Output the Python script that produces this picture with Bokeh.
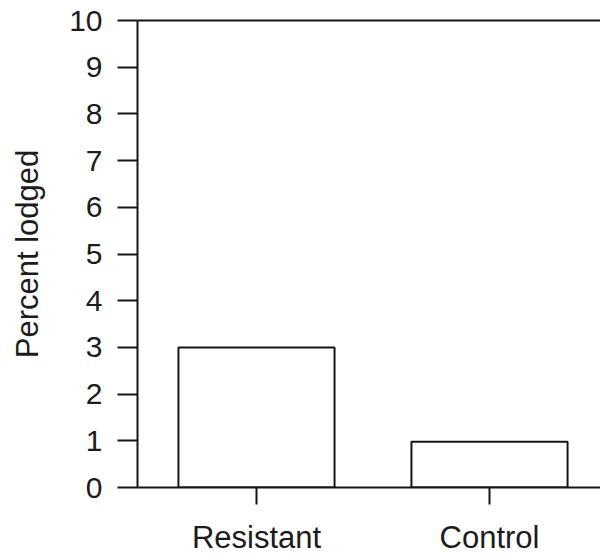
from bokeh.plotting import figure
from bokeh.models import Range1d, FixedTicker, LinearAxis
from bokeh.embed import file_html
from bokeh.resources import INLINE

categories = ["Resistant", "Control"]
percent_lodged = [3.0, 0.98]
y_ticks = list(range(0, 11))

x_pos = [i + 1 for i in range(len(categories))]

LINE = "#151515"
TEXT = "#1c1c1c"
FONT = "Liberation Sans"

p = figure(width=600, height=557, output_backend="svg", toolbar_location=None,
           x_range=Range1d(0.4893, 2.4764), y_range=Range1d(0, 10),
           min_border_left=137, min_border_right=0, min_border_top=20,
           min_border_bottom=69)
p.background_fill_color = "white"
p.border_fill_color = "white"
p.outline_line_color = None
p.xgrid.grid_line_color = None
p.ygrid.grid_line_color = None

p.vbar(x=x_pos, top=percent_lodged, bottom=0, width=0.67,
       fill_color="white", line_color=LINE, line_width=2)

# x axis
xa = p.xaxis[0]
xa.ticker = FixedTicker(ticks=x_pos)
xa.major_label_overrides = {x: c for x, c in zip(x_pos, categories)}
xa.axis_line_color = LINE
xa.axis_line_width = 2
xa.major_tick_in = 0
xa.major_tick_out = 17
xa.major_tick_line_width = 2
xa.major_tick_line_color = LINE
xa.minor_tick_line_color = None
xa.major_label_standoff = 15
xa.major_label_text_font = FONT
xa.major_label_text_font_size = "31px"
xa.major_label_text_color = TEXT

# y axis
ya = p.yaxis[0]
ya.ticker = FixedTicker(ticks=y_ticks)
ya.axis_line_color = LINE
ya.axis_line_width = 2
ya.major_tick_in = 0
ya.major_tick_out = 20
ya.major_tick_line_width = 2
ya.major_tick_line_color = LINE
ya.minor_tick_line_color = None
ya.major_label_standoff = 15
ya.major_label_text_font = FONT
ya.major_label_text_font_size = "30px"
ya.major_label_text_color = TEXT
ya.axis_label = "Percent lodged"
ya.axis_label_text_font = FONT
ya.axis_label_text_font_size = "31px"
ya.axis_label_text_font_style = "normal"
ya.axis_label_text_color = TEXT
ya.axis_label_standoff = 21

# top frame line at y = 10
top = LinearAxis(ticker=FixedTicker(ticks=[]), axis_line_color=LINE,
                 axis_line_width=2, major_tick_out=0, major_tick_in=0,
                 major_label_standoff=0, major_tick_line_color=None,
                 minor_tick_line_color=None, major_label_text_font_size="0px")
p.add_layout(top, "above")

open("out.html", "w").write(file_html(p, INLINE))
